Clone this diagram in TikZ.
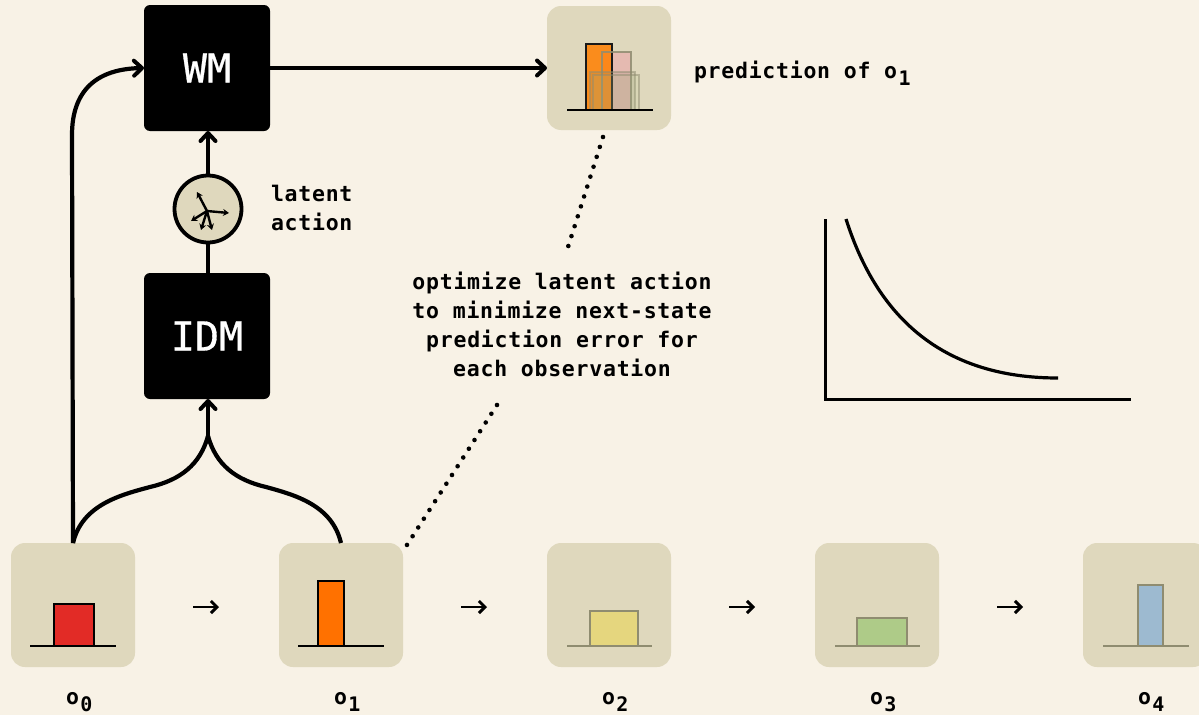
\documentclass[tikz,border=0pt]{standalone}
\usepackage{fontspec}
\setmonofont[LetterSpace=3.5]{DejaVu Sans Mono}
\newfontfamily\bigmono[FakeBold=0.7]{DejaVu Sans Mono}
\usetikzlibrary{arrows.meta}
\definecolor{bgc}{HTML}{F8F2E6}
\definecolor{boxc}{HTML}{DFD8BD}
\definecolor{mutedc}{HTML}{8F8C70}
\definecolor{redc}{HTML}{E22B26}
\definecolor{orangec}{HTML}{FF7100}
\definecolor{yellowc}{HTML}{E5D67E}
\definecolor{greenc}{HTML}{AECB88}
\definecolor{bluec}{HTML}{9DBAD0}
\definecolor{pinkc}{HTML}{E8B0AE}
\newcommand{\lbl}{\fontsize{21.5}{29}\selectfont\ttfamily\bfseries}
\newcommand{\obsname}[1]{o\hspace{1.5pt}\raisebox{-7pt}{\fontsize{20}{20}\selectfont #1}}
\tikzset{
  x=1pt,y=-1pt,
  every node/.style={inner sep=0pt,outer sep=0pt},
  obsbox/.style={fill=boxc,rounded corners=14pt,minimum width=124pt,minimum height=124pt},
  blackbox/.style={fill=black,rounded corners=6pt,minimum width=126pt,minimum height=126pt,text=white,font=\fontsize{40}{40}\selectfont\bigmono},
  wire/.style={line width=4.2pt,draw=black},
  tip/.style={-{Straight Barb[length=8pt,width=15pt,line width=4pt,round]}},
  stepper/.style={line width=2.8pt,-{Straight Barb[length=6pt,width=12pt,line width=3pt]},shorten >=60pt,shorten <=58pt},
  dots/.style={line width=4.6pt,line cap=round,dash pattern=on 0pt off 10.4pt},
  base/.style={line width=2.5pt,draw=black},
  mbase/.style={line width=2.5pt,draw=mutedc},
  bar/.style={line width=2.5pt,draw=black},
  mbar/.style={line width=2.5pt,draw=mutedc},
  txt/.style={font=\lbl,align=center},
  mini/.style={line width=2.4pt,-{Stealth[length=6pt,width=7pt]}}
}
\begin{document}
\begin{tikzpicture}
\useasboundingbox[fill=bgc] (0,0) rectangle (1199,715);
% boxes
\node[obsbox] (o0) at (73,605) {};
\node[obsbox] (o1) at (341,605) {};
\node[obsbox] (o2) at (609,605) {};
\node[obsbox] (o3) at (877,605) {};
\node[obsbox] (o4) at (1145,605) {};
\node[obsbox] (pred) at (609,68) {};
\node[blackbox] (wm) at (207,68) {WM};
\node[blackbox] (idm) at (207,336) {IDM};
\node[circle,fill=boxc,draw=black,line width=3.8pt,minimum size=67pt] (lat) at (208,209) {};
% bars
\draw[bar,fill=redc] (54,646) rectangle (94,604);
\draw[base] (30,646) -- (116,646);
\draw[bar,fill=orangec] (318,646) rectangle (344,581);
\draw[base] (298,646) -- (384,646);
\draw[mbar,fill=yellowc] (590,646) rectangle (638,611);
\draw[mbase] (567,646) -- (652,646);
\draw[mbar,fill=greenc] (857,646) rectangle (907,618);
\draw[mbase] (835,646) -- (920,646);
\draw[mbar,fill=bluec] (1138,646) rectangle (1163,585);
\draw[mbase] (1103,646) -- (1189,646);
% prediction
\fill[pinkc,fill opacity=.75] (602,110) rectangle (631,52);
\fill[orangec!90!yellow,fill opacity=.85] (586,110) rectangle (612,44);
\draw[line width=2.5pt,black!90] (586,110) rectangle (612,44);
\draw[line width=2.5pt,draw=mutedc,draw opacity=.85] (602,110) rectangle (631,52);
\draw[line width=2.2pt,draw=mutedc,fill=mutedc,fill opacity=.2,draw opacity=.5] (590,110) rectangle (635,72);
\draw[line width=2.2pt,draw=mutedc,fill=greenc,fill opacity=.12,draw opacity=.5] (593,110) rectangle (639,75);
\draw[base] (567,110) -- (653,110);
% steppers
\draw[stepper] ([yshift=-2pt]o0.east) -- ([yshift=-2pt]o1.west);
\draw[stepper] ([yshift=-2pt]o1.east) -- ([yshift=-2pt]o2.west);
\draw[stepper] ([yshift=-2pt]o2.east) -- ([yshift=-2pt]o3.west);
\draw[stepper] ([yshift=-2pt]o3.east) -- ([yshift=-2pt]o4.west);
% wires
\coordinate (fork) at (208,436);
\draw[wire,tip] (wm.east) -- (pred.west);
\draw[wire,tip] (lat.north) -- (wm.south -| lat.north);
\draw[wire] (idm.north -| lat.south) -- (lat.south);
\draw[wire,tip] (fork) -- (idm.south -| fork);
\draw[wire,tip] (o0.north) -- (72,135) .. controls (72,90) and (97,69) .. (wm.west);
\draw[wire] (o0.north) .. controls (82,505) and (120,495) .. (150,487) .. controls (180,480) and (200,465) .. (fork);
\draw[wire] (o1.north) .. controls (332,505) and (295,495) .. (266,487) .. controls (236,480) and (216,465) .. (fork);
% latent action icon
\coordinate (hub) at (207,211);
\draw[mini] (hub) -- (197,192);
\draw[mini] (hub) -- (229,213);
\draw[mini] (hub) -- (191,221);
\draw[mini] (hub) -- (201,230);
\draw[mini] (hub) -- (212,230);
% dotted
\node[txt] (opt) at (562,324.5) {optimize latent action\\to minimize next-state\\prediction error for\\each observation};
\coordinate (d1) at (603,137);
\coordinate (d2) at (568,247);
\coordinate (d3) at (497,405);
\draw[dots] (d1) -- (d2);
\draw[dots] (d3) -- ([shift={(2pt,-5pt)}]o1.north east);
% chart
\draw[line width=3pt] (825,219) -- (825,399) -- (1131,399);
\draw[line width=3.2pt] (846,219) .. controls (878,320) and (945,378) .. (1058,378);
% labels
\node[txt,anchor=west,align=left] (la) at (271,208) {latent\\action};
\node[txt,anchor=base west] (pr) at (694,78) {prediction of \obsname{1}};
\node[txt,anchor=base west] (l0) at (66,704) {\obsname{0}};
\node[txt,anchor=base west] (l1) at (334,704) {\obsname{1}};
\node[txt,anchor=base west] (l2) at (602,704) {\obsname{2}};
\node[txt,anchor=base west] (l3) at (870,704) {\obsname{3}};
\node[txt,anchor=base west] (l4) at (1138,704) {\obsname{4}};
\end{tikzpicture}
\end{document}
